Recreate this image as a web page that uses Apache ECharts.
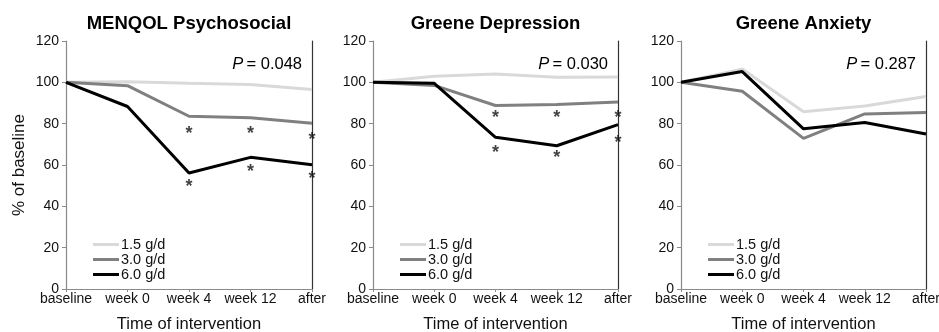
<!DOCTYPE html>
<html>
<head>
<meta charset="utf-8">
<script src="https://cdn.jsdelivr.net/npm/echarts@6/dist/echarts.min.js"></script>
<style>
  html, body { margin: 0; padding: 0; background: #fff; }
  #chart { width: 939px; height: 332px; }
</style>
</head>
<body>
<div id="chart"></div>
<script>
const categories = ['baseline', 'week 0', 'week 4', 'week 12', 'after'];
const doseNames = ['1.5 g/d', '3.0 g/d', '6.0 g/d'];
const yTicks = [0, 20, 40, 60, 80, 100, 120];

const panelTitles = ['MENQOL Psychosocial', 'Greene Depression', 'Greene Anxiety'];
const pValues = ['0.048', '0.030', '0.287'];

// % of baseline, one array per dose per panel
const menqolLow = [100, 100.3, 99.5, 99, 96.5];
const menqolMid = [100, 98.4, 83.6, 82.9, 80.2];
const menqolHigh = [100, 88.3, 56.1, 63.7, 60.1];

const depressionLow = [100, 103, 104, 102.5, 102.6];
const depressionMid = [100, 98.5, 88.8, 89.3, 90.5];
const depressionHigh = [100, 99.5, 73.4, 69.3, 79.5];

const anxietyLow = [100, 106.4, 85.8, 88.5, 93.1];
const anxietyMid = [100, 95.7, 72.9, 84.7, 85.4];
const anxietyHigh = [100, 105.2, 77.5, 80.6, 75];

// significance markers: [category index, value]
const menqolStars = [[2, 77], [2, 51.3], [3, 77], [3, 58.3], [4, 74], [4, 55]];
const depressionStars = [[2, 84.5], [2, 67.7], [3, 84.5], [3, 65.1], [4, 84.5], [4, 72.4]];
const anxietyStars = [];

const panelData = [
  [menqolLow, menqolMid, menqolHigh, menqolStars],
  [depressionLow, depressionMid, depressionHigh, depressionStars],
  [anxietyLow, anxietyMid, anxietyHigh, anxietyStars],
];

const doseColors = ['#d9d9d9', '#808080', '#000000'];
const gridLefts = [66, 373, 681];
const gridWidths = [246, 245, 245];
const gridTop = 41;
const gridHeight = 248;
const font = 'Liberation Sans, Arial, Helvetica, sans-serif';

const chart = echarts.init(document.getElementById('chart'), null, { renderer: 'canvas' });

const grids = [];
const xAxes = [];
const yAxes = [];
const series = [];
const legends = [];
const graphics = [];

gridLefts.forEach((left, i) => {
  grids.push({
    left: left,
    top: gridTop,
    width: gridWidths[i],
    height: gridHeight,
    containLabel: false,
    outerBoundsMode: 'none',
  });

  xAxes.push({
    type: 'category',
    gridIndex: i,
    data: categories,
    boundaryGap: false,
    name: 'Time of intervention',
    nameLocation: 'middle',
    nameGap: 27,
    nameTextStyle: { fontFamily: font, fontSize: 16.5, color: '#111' },
    axisLine: { lineStyle: { color: '#8a8a8a', width: 1.2 } },
    axisTick: { show: true, length: 3, lineStyle: { color: '#8a8a8a' } },
    axisLabel: { fontFamily: font, fontSize: 14, color: '#111', margin: 3, showMinLabel: true, showMaxLabel: true, interval: 0 },
    splitLine: { show: false },
  });

  yAxes.push({
    type: 'value',
    gridIndex: i,
    min: 0,
    max: 120,
    interval: 20,
    name: i === 0 ? '% of baseline' : '',
    nameLocation: 'middle',
    nameGap: 38,
    nameTextStyle: { fontFamily: font, fontSize: 17, color: '#111' },
    axisLine: { show: true, lineStyle: { color: '#8a8a8a', width: 1.2 } },
    axisTick: { show: true, length: 4, lineStyle: { color: '#8a8a8a' } },
    axisLabel: { fontFamily: font, fontSize: 14, color: '#111', margin: 7, formatter: (v) => (yTicks.includes(v) ? String(v) : '') },
    splitLine: { show: false },
  });

  // right frame line
  yAxes.push({
    type: 'value',
    gridIndex: i,
    position: 'right',
    min: 0,
    max: 120,
    interval: 20,
    axisLine: { show: true, lineStyle: { color: '#333', width: 1.2 } },
    axisTick: { show: false },
    axisLabel: { show: false },
    splitLine: { show: false },
  });

  const [low, mid, high, stars] = panelData[i];
  [low, mid, high].forEach((values, d) => {
    series.push({
      name: doseNames[d],
      type: 'line',
      xAxisIndex: i,
      yAxisIndex: i * 2,
      data: values,
      symbol: 'none',
      smooth: false,
      lineStyle: { color: doseColors[d], width: 3 },
      itemStyle: { color: doseColors[d] },
      z: 2 + d,
      animation: false,
    });
  });

  if (stars.length) {
    series.push({
      name: 'significance',
      type: 'scatter',
      xAxisIndex: i,
      yAxisIndex: i * 2,
      data: stars,
      symbolSize: 0,
      clip: false,
      z: 10,
      silent: true,
      label: {
        show: true,
        position: 'inside',
        formatter: '*',
        fontFamily: font,
        fontWeight: 'bold',
        fontSize: 18,
        color: '#111',
        offset: [0, 4],
      },
      animation: false,
    });
  }

  legends.push({
    data: doseNames.map((n, d) => ({ name: n, itemStyle: { color: doseColors[d] } })),
    orient: 'vertical',
    left: gridLefts[i] + 27,
    top: 237,
    icon: 'rect',
    itemWidth: 26,
    itemHeight: 3,
    itemGap: 0,
    padding: 0,
    selectedMode: false,
    textStyle: { fontFamily: font, fontSize: 14.5, color: '#111', lineHeight: 14.5, padding: [0, 0, 0, -3] },
  });

  graphics.push({
    type: 'text',
    x: gridLefts[i] + gridWidths[i] / 2,
    y: 24,
    style: {
      text: panelTitles[i],
      fontFamily: font,
      fontSize: 18.5,
      fontWeight: 'bold',
      fill: '#000',
      textAlign: 'center',
      textVerticalAlign: 'middle',
    },
  });

  graphics.push({
    type: 'text',
    x: gridLefts[i] + gridWidths[i] - 10,
    y: 64,
    style: {
      rich: {
        p: { fontFamily: font, fontSize: 16.5, fontStyle: 'italic', fill: '#000' },
        v: { fontFamily: font, fontSize: 16.5, fill: '#000' },
      },
      text: '{p|P} {v|= ' + pValues[i] + '}',
      textAlign: 'right',
      textVerticalAlign: 'middle',
    },
  });
});

chart.setOption({
  backgroundColor: '#ffffff',
  animation: false,
  grid: grids,
  xAxis: xAxes,
  yAxis: yAxes,
  legend: legends,
  series: series,
  graphic: graphics,
});
</script>
</body>
</html>
